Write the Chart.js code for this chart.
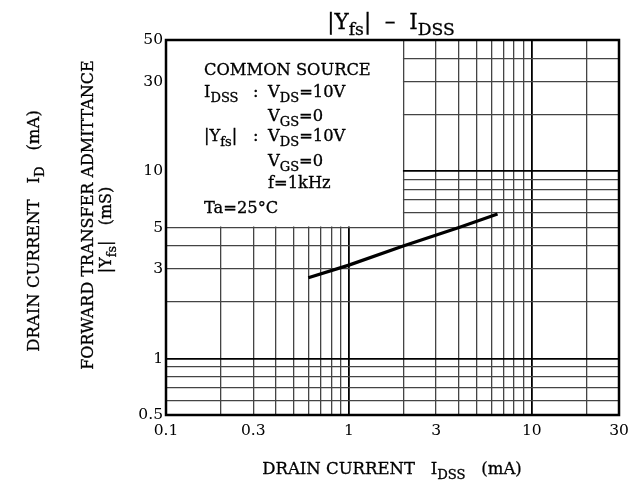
<!DOCTYPE html>
<html>
<head>
<meta charset="utf-8">
<script src="https://cdn.jsdelivr.net/npm/chart.js@4.4.0/dist/chart.umd.min.js"></script>
<style>
    body { margin: 0; background: #fff; }
    #wrap { width: 631px; height: 483px; position: relative; }
</style>
</head>
<body>
<div id="wrap"><canvas id="myChart"></canvas></div>
<script>
// donnees
var currentIdss = [0.6, 1, 2, 4, 6.5];
var yfsValues = [2.7, 3.15, 4.0, 5.0, 5.9];

// graduations
var xGridValues = [0.1, 0.2, 0.3, 0.4, 0.5, 0.6, 0.7, 0.8, 0.9, 1, 2, 3, 4, 5, 6, 7, 8, 9, 10, 20, 30];
var yGridValues = [0.5, 0.6, 0.7, 0.8, 0.9, 1, 2, 3, 4, 5, 6, 7, 8, 9, 10, 20, 30, 40, 50];
var xTickLabels = [0.1, 0.3, 1, 3, 10, 30];
var yTickLabels = [0.5, 1, 3, 5, 10, 30, 50];

var serif = "'DejaVu Serif', serif";

// texte avec indices : [texte, estIndice]
function richWidth(ctx, parts, size) {
    var w = 0;
    for (var i = 0; i < parts.length; i++) {
        ctx.font = (parts[i][1] ? size * 0.8 : size) + "px " + serif;
        w += ctx.measureText(parts[i][0]).width;
    }
    return w;
}

function drawRich(ctx, parts, x, y, size, align) {
    var w = richWidth(ctx, parts, size);
    var cx = x;
    if (align === "center") cx = x - w / 2;
    ctx.textAlign = "left";
    ctx.textBaseline = "alphabetic";
    ctx.fillStyle = "#000";
    ctx.strokeStyle = "#000";
    ctx.lineWidth = 0.3;
    for (var i = 0; i < parts.length; i++) {
        var sub = parts[i][1];
        ctx.font = (sub ? size * 0.8 : size) + "px " + serif;
        ctx.fillText(parts[i][0], cx, sub ? y + size * 0.3 : y);
        ctx.strokeText(parts[i][0], cx, sub ? y + size * 0.3 : y);
        cx += ctx.measureText(parts[i][0]).width;
    }
}

function drawVertical(chart, parts, x, y, size) {
    var c = chart.ctx;
    c.save();
    c.translate(x, y);
    c.rotate(-Math.PI / 2);
    drawRich(c, parts, 0, 0, size, "center");
    c.restore();
}

function gridColor(ctx) {
    var v = ctx.tick ? ctx.tick.value : 0;
    if (v === 1 || v === 10) return "#000";
    return "#444";
}
function gridWidth(ctx) {
    var v = ctx.tick ? ctx.tick.value : 0;
    if (v === 1 || v === 10) return 1.8;
    return 1.3;
}

var annotations = {
    id: "annotations",
    beforeDatasetsDraw: function (chart) {
        var c = chart.ctx;
        var xs = chart.scales.x;
        var ys = chart.scales.y;
        var a = chart.chartArea;
        // cadre blanc des conditions de mesure
        c.save();
        c.fillStyle = "#fff";
        c.fillRect(a.left, a.top, xs.getPixelForValue(2) - a.left - 1, ys.getPixelForValue(5) - a.top - 1);
        c.restore();
    },
    afterDraw: function (chart) {
        var c = chart.ctx;
        var a = chart.chartArea;
        c.save();
        // bordure du graphe
        c.strokeStyle = "#000";
        c.lineWidth = 2.5;
        c.strokeRect(a.left, a.top, a.right - a.left, a.bottom - a.top);

        // titre
        drawRich(c, [["|Y", 0], ["fs", 1], ["|  \u2013  I", 0], ["DSS", 1]], 391, 29, 21.5, "center");

        // conditions
        var lx = 204, vx = 268, s = 16.3;
        drawRich(c, [["COMMON SOURCE", 0]], lx, 75, s);
        drawRich(c, [["I", 0], ["DSS", 1]], lx, 97, s);
        drawRich(c, [[":", 0]], 253, 97, s);
        drawRich(c, [["V", 0], ["DS", 1], ["=10V", 0]], vx, 97, s);
        drawRich(c, [["V", 0], ["GS", 1], ["=0", 0]], vx, 121, s);
        drawRich(c, [["|Y", 0], ["fs", 1], ["|", 0]], lx, 141, s);
        drawRich(c, [[":", 0]], 253, 141, s);
        drawRich(c, [["V", 0], ["DS", 1], ["=10V", 0]], vx, 141, s);
        drawRich(c, [["V", 0], ["GS", 1], ["=0", 0]], vx, 166, s);
        drawRich(c, [["f=1kHz", 0]], vx, 188, s);
        drawRich(c, [["Ta=25\u00b0C", 0]], lx, 213, s);

        // titre axe x
        drawRich(c, [["DRAIN CURRENT   I", 0], ["DSS", 1], ["   (mA)", 0]], 392, 474, 16.5, "center");
        c.restore();

        // titres axe y (verticaux)
        drawVertical(chart, [["FORWARD TRANSFER ADMITTANCE", 0]], 93, 215, 16);
        drawVertical(chart, [["|Y", 0], ["fs", 1], ["|   (mS)", 0]], 111, 230, 16);
        drawVertical(chart, [["DRAIN CURRENT   I", 0], ["D", 1], ["   (mA)", 0]], 39, 231, 16.5);
    }
};

var points = currentIdss.map(function (v, i) {
    return { x: v, y: yfsValues[i] };
});

var ctx1 = document.getElementById("myChart").getContext("2d");
var myChart = new Chart(ctx1, {
    type: "line",
    data: {
        datasets: [
            {
                label: "|Yfs|",
                data: points,
                borderColor: "#000",
                borderWidth: 3.2,
                pointRadius: 0,
                fill: false,
                tension: 0
            }
        ]
    },
    options: {
        responsive: true,
        maintainAspectRatio: false,
        animation: false,
        layout: { padding: { left: 0, top: 40, right: 12, bottom: 0 } },
        plugins: {
            legend: { display: false },
            tooltip: { enabled: false }
        },
        scales: {
            x: {
                type: "logarithmic",
                min: 0.1,
                max: 30,
                afterBuildTicks: function (scale) {
                    scale.ticks = xGridValues.map(function (v) { return { value: v }; });
                },
                afterFit: function (scale) {
                    scale.height = 68;
                    scale.paddingLeft = 0;
                    scale.paddingRight = 0;
                },
                border: { display: false },
                grid: { color: gridColor, lineWidth: gridWidth, drawTicks: false },
                ticks: {
                    autoSkip: false,
                    maxRotation: 0,
                    padding: 7,
                    color: "#000",
                    font: { family: serif, size: 15.5 },
                    callback: function (value) {
                        return xTickLabels.indexOf(value) >= 0 ? String(value) : "";
                    }
                }
            },
            y: {
                type: "logarithmic",
                min: 0.5,
                max: 50,
                afterBuildTicks: function (scale) {
                    scale.ticks = yGridValues.map(function (v) { return { value: v }; });
                },
                afterFit: function (scale) {
                    scale.width = 166;
                    scale.paddingTop = 0;
                    scale.paddingBottom = 0;
                },
                border: { display: false },
                grid: { color: gridColor, lineWidth: gridWidth, drawTicks: false },
                ticks: {
                    autoSkip: false,
                    padding: 3,
                    color: "#000",
                    font: { family: serif, size: 15.5 },
                    callback: function (value) {
                        return yTickLabels.indexOf(value) >= 0 ? String(value) : "";
                    }
                }
            }
        }
    },
    plugins: [annotations]
});
</script>
</body>
</html>
